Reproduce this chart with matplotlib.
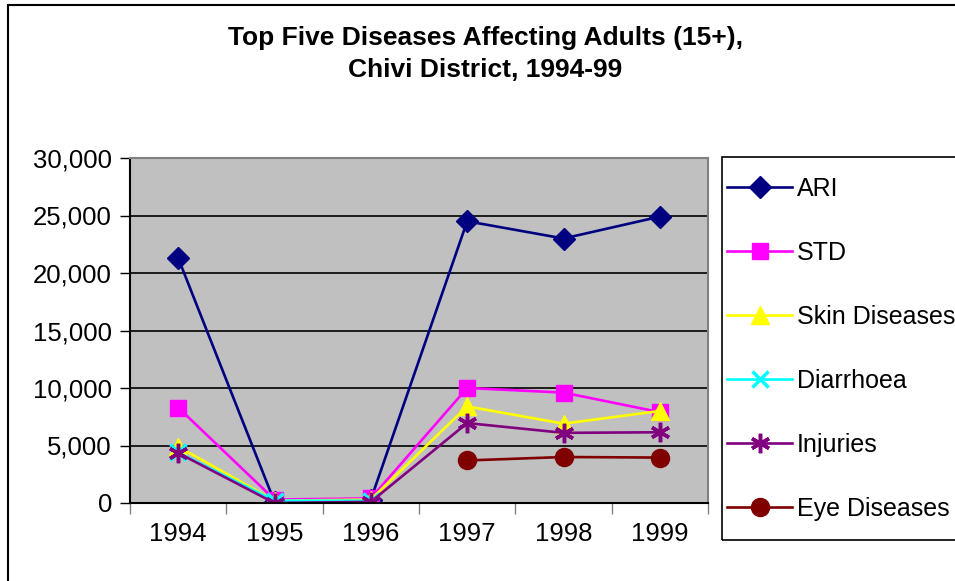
import numpy as np
import matplotlib
matplotlib.use("Agg")
import matplotlib.pyplot as plt
from matplotlib.patches import Rectangle

plt.rcParams['font.family'] = ['Liberation Sans', 'DejaVu Sans']

YEARS = ["1994", "1995", "1996", "1997", "1998", "1999"]
ARI = [21300, 100, 300, 24500, 23000, 24900]
STD = [8300, 300, 400, 10000, 9600, 7900]
SKIN = [4900, 200, 300, 8400, 6900, 8000]
DIARRHOEA = [4400, 200, 200, np.nan, np.nan, np.nan]
INJURIES = [4350, 0, 100, 6950, 6100, 6150]
EYE = [np.nan, np.nan, np.nan, 3700, 4000, 3950]

SERIES = [
    ("ARI", ARI, "#000080", "D", 11),
    ("STD", STD, "#FF00FF", "s", 12),
    ("Skin Diseases", SKIN, "#FFFF00", "^", 13),
    ("Diarrhoea", DIARRHOEA, "#00FFFF", "x", 12),
    ("Injuries", INJURIES, "#800080", (6, 2, 0), 14),
    ("Eye Diseases", EYE, "#800000", "o", 13),
]

fig = plt.figure(figsize=(9.55, 5.81), dpi=100)
W, H = 955, 581
ax = fig.add_axes([130 / W, 1 - 503 / H, (708 - 130) / W, (503 - 158) / H])
ax.set_facecolor("#C0C0C0")

x = np.arange(len(YEARS))
for name, vals, col, mk, ms in SERIES:
    kw = dict(color=col, lw=1.9, marker=mk, markersize=ms, label=name,
              markerfacecolor=col, markeredgecolor=col)
    if mk in ("x",) or isinstance(mk, tuple):
        kw["markeredgewidth"] = 2.5
    ax.plot(x, vals, **kw)

ax.set_xlim(-0.5, 5.5)
ax.set_ylim(0, 30000)
ax.set_yticks(range(0, 30001, 5000))
ax.set_yticklabels([f"{v:,}" for v in range(0, 30001, 5000)], fontsize=18.5)
ax.yaxis.grid(True, color="black", lw=1.2)
ax.set_axisbelow(True)

ax.set_xticks(np.arange(-0.5, 6, 1))
ax.set_xticklabels([])
ax.set_xticks(x, minor=True)
ax.set_xticklabels(YEARS, minor=True, fontsize=18.5)
ax.tick_params(axis="x", which="major", direction="out", length=8, width=1, color="#808080")
ax.tick_params(axis="x", which="minor", length=0, pad=14)
ax.tick_params(axis="y", direction="out", length=7, width=1, pad=6)

ax.spines["left"].set_color("black")
ax.spines["bottom"].set_color("black")
ax.spines["top"].set_color("#808080")
ax.spines["right"].set_color("#808080")
for s in ax.spines.values():
    s.set_linewidth(1.5)

fig.text(485 / W, 1 - 38 / H, "Top Five Diseases Affecting Adults (15+),",
         ha="center", va="center", fontsize=19, fontweight="bold")
fig.text(485 / W, 1 - 70 / H, "Chivi District, 1994-99",
         ha="center", va="center", fontsize=19, fontweight="bold")

# legend entries, frame drawn separately so the box can run off the right edge
fig.legend(loc="upper left", bbox_to_anchor=(707 / W, 1 - 157 / H),
           fontsize=18, frameon=False, handlelength=2.6,
           labelspacing=1.6, borderpad=0.8, handletextpad=0.2,
           borderaxespad=0)
fig.patches.append(Rectangle((722 / W, 1 - 540 / H), 0.3, (540 - 157) / H,
                             transform=fig.transFigure, fill=False,
                             edgecolor="black", lw=1.2))

fig.patches.append(Rectangle((8 / W, -0.1), 1.2, 1 - 5 / H + 0.1, transform=fig.transFigure,
                             fill=False, edgecolor="black", lw=1.5))

fig.savefig("out.png", dpi=100)
